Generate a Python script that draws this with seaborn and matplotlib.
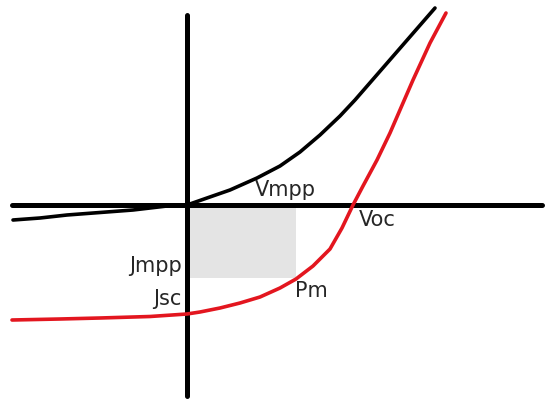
import numpy as np
import pandas as pd
import matplotlib
matplotlib.use("Agg")
import matplotlib.pyplot as plt
import seaborn as sns

# J-V curves of a solar cell (dark and illuminated), schematic units
dark_v = [-1.74, -1.47, -1.20, -0.87, -0.54, -0.20, 0.00, 0.20, 0.43, 0.70, 0.93,
          1.13, 1.33, 1.53, 1.68, 1.88, 2.08, 2.28, 2.48]
dark_j = [-0.15, -0.13, -0.10, -0.075, -0.05, -0.01, 0.00, 0.07, 0.15, 0.27, 0.39,
          0.53, 0.70, 0.89, 1.05, 1.28, 1.51, 1.74, 1.97]

light_v = [-1.75, -1.27, -0.87, -0.37, 0.00, 0.13, 0.33, 0.53, 0.73, 0.93, 1.09,
           1.26, 1.43, 1.55, 1.66, 1.76, 1.90, 2.03, 2.16, 2.26, 2.43, 2.59]
light_j = [-1.15, -1.14, -1.13, -1.115, -1.09, -1.07, -1.03, -0.98, -0.92, -0.83, -0.74,
           -0.61, -0.44, -0.23, 0.00, 0.19, 0.45, 0.72, 1.02, 1.25, 1.62, 1.92]

# key points
v_mpp = 1.09
j_mpp = -0.73
v_oc = 1.66
j_sc = -1.09

# drawn axes extents
h_axis_v = [-1.75, 3.55]
v_axis_j = [-1.91, 1.90]

sns.set_style("white")
plt.rcParams['font.family'] = ['DejaVu Sans']

fig = plt.figure(figsize=(5.5, 4.05), dpi=100)
ax = fig.add_axes([0, 0, 1, 1])

# maximum power rectangle
ax.fill_between([0, v_mpp], j_mpp, 0, color='#e4e4e4', lw=0, zorder=1)

# axes as thick lines
ax.plot(h_axis_v, [0, 0], color='black', lw=3.6, solid_capstyle='round', zorder=2)
ax.plot([0, 0], v_axis_j, color='black', lw=3.6, solid_capstyle='round', zorder=2)

dark = pd.DataFrame({"V": dark_v, "J": dark_j})
light = pd.DataFrame({"V": light_v, "J": light_j})
sns.lineplot(data=dark, x="V", y="J", color='black', lw=2.6, sort=False, ax=ax, zorder=3)
sns.lineplot(data=light, x="V", y="J", color='#e3161f', lw=2.6, sort=False, ax=ax, zorder=3)

txt = dict(fontsize=15, color='#262626')
ax.text(0.68, 0.09, "Vmpp", ha='left', va='baseline', **txt)
ax.text(v_oc + 0.06, -0.21, "Voc", ha='left', va='baseline', **txt)
ax.text(v_mpp - 0.01, j_mpp - 0.19, "Pm", ha='left', va='baseline', **txt)
ax.text(-0.05, j_mpp + 0.06, "Jmpp", ha='right', va='baseline', **txt)
ax.text(-0.05, j_sc + 0.09, "Jsc", ha='right', va='baseline', **txt)

ax.set_xlim(-1.87, 3.63)
ax.set_ylim(-2.00, 2.05)
ax.axis('off')

plt.savefig("out.png", dpi=100)
